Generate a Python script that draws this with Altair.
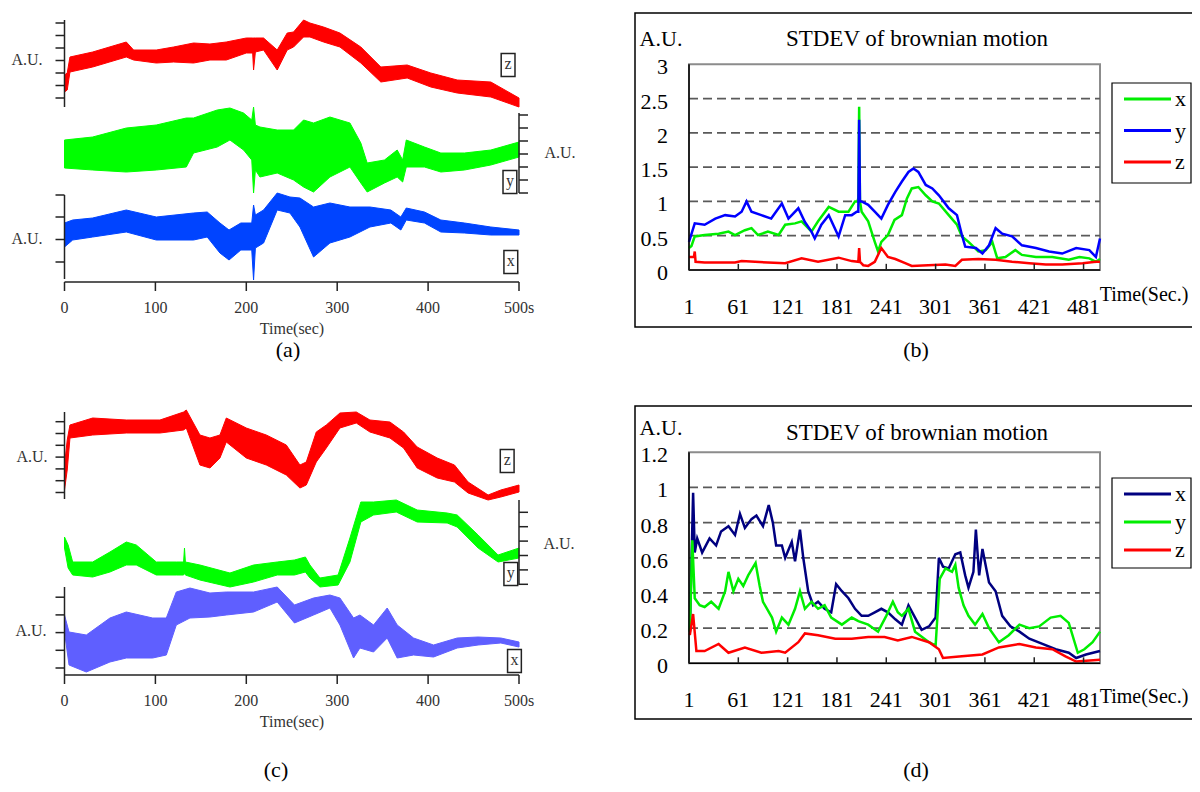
import altair as alt
import pandas as pd

W, H = 1184, 776
FONT = "Liberation Serif"

# ---------------- panel (a): raw traces (envelope low / high, A.U.) ----------------
a_z_t = [0, 3, 6, 31, 68, 76, 101, 120, 142, 160, 178, 200, 207, 208, 210, 219, 234, 245, 252, 263, 270, 285, 303, 326, 348, 377, 403, 432, 469, 500]
a_z_lo = [15, 17, 35, 40, 50, 47, 44, 45, 44, 47, 47, 54, 54, 37, 55, 57, 37, 57, 60, 70, 70, 65, 60, 44, 25, 29, 20, 14, 10, 0]
a_z_hi = [32, 34, 50, 55, 65, 57, 57, 60, 64, 63, 65, 69, 69, 69, 69, 69, 57, 74, 75, 87, 84, 80, 74, 60, 40, 42, 34, 27, 25, 9]

a_y_t = [0, 31, 68, 101, 134, 142, 168, 182, 197, 206, 208, 210, 215, 234, 252, 263, 274, 292, 314, 326, 333, 352, 366, 372, 376, 396, 414, 440, 469, 500]
a_y_lo = [25, 23, 21, 23, 26, 40, 46, 53, 43, 33, 0, 23, 16, 20, 13, 6, 1, 16, 26, 10, 1, 10, 16, 11, 26, 26, 21, 23, 28, 36]
a_y_hi = [53, 56, 65, 68, 75, 75, 83, 85, 80, 73, 86, 68, 66, 63, 63, 73, 70, 76, 70, 50, 30, 33, 43, 33, 53, 46, 40, 40, 43, 51]

a_x_t = [0, 9, 31, 68, 101, 142, 157, 171, 181, 194, 206, 208, 210, 219, 234, 248, 259, 274, 292, 314, 336, 359, 370, 376, 396, 414, 440, 469, 500]
a_x_lo = [32, 39, 42, 47, 39, 39, 42, 26, 19, 29, 29, -1, 31, 36, 69, 66, 52, 22, 36, 42, 52, 56, 49, 59, 56, 47, 46, 44, 44]
a_x_hi = [56, 59, 61, 69, 62, 66, 67, 56, 49, 56, 56, 74, 64, 69, 86, 82, 81, 72, 76, 72, 72, 69, 62, 71, 67, 59, 56, 52, 49]

# ---------------- panel (c): raw traces ----------------
c_z_t = [0, 3, 6, 31, 68, 105, 131, 134, 149, 160, 171, 178, 200, 222, 244, 259, 266, 277, 288, 303, 321, 336, 358, 373, 388, 410, 429, 444, 466, 480, 500]
c_z_lo = [9, 29, 61, 64, 66, 66, 69, 71, 34, 31, 41, 57, 41, 34, 24, 11, 14, 37, 51, 71, 76, 67, 61, 51, 31, 21, 17, 6, -1, 2, 7]
c_z_hi = [34, 59, 74, 81, 79, 79, 87, 89, 64, 61, 64, 81, 71, 64, 54, 34, 37, 67, 74, 86, 87, 79, 77, 67, 52, 41, 34, 17, 4, 9, 14]

c_y_t = [0, 4, 9, 31, 50, 68, 79, 101, 123, 131, 132, 133, 149, 182, 208, 234, 253, 265, 270, 281, 301, 314, 326, 340, 365, 388, 421, 432, 455, 477, 500]
c_y_lo = [37, 17, 10, 8, 13, 20, 20, 10, 10, 10, 12, 10, 5, -2, 3, 10, 10, 13, 7, -2, 0, 23, 63, 70, 73, 63, 62, 58, 37, 23, 27]
c_y_hi = [48, 40, 23, 23, 33, 43, 40, 23, 23, 23, 37, 23, 20, 12, 20, 23, 25, 28, 20, 7, 10, 47, 83, 83, 85, 75, 72, 70, 50, 30, 37]

c_x_t = [0, 5, 24, 50, 68, 97, 112, 123, 138, 160, 178, 208, 234, 253, 274, 292, 303, 318, 325, 340, 355, 366, 384, 406, 432, 455, 480, 500]
c_x_lo = [43, 10, 3, 13, 17, 17, 20, 50, 57, 58, 60, 63, 73, 52, 60, 67, 50, 17, 27, 23, 37, 17, 20, 18, 27, 30, 32, 28]
c_x_hi = [60, 43, 40, 57, 63, 57, 57, 83, 87, 82, 83, 83, 88, 70, 77, 80, 77, 57, 60, 50, 67, 50, 37, 30, 37, 38, 37, 33]

# ---------------- panel (b): STDEV ----------------
b_x_t = [1, 4, 8, 20, 37, 49, 57, 69, 77, 85, 97, 110, 118, 130, 138, 150, 158, 171, 183, 195, 203, 206, 207, 208, 209, 211, 219, 227, 231, 235, 243, 251, 260, 266, 272, 280, 289, 297, 305, 317, 327, 333, 341, 353, 362, 370, 376, 386, 398, 406, 423, 443, 463, 476, 488, 496, 501]
b_x_v = [0.32, 0.35, 0.49, 0.51, 0.53, 0.56, 0.51, 0.58, 0.61, 0.51, 0.56, 0.51, 0.66, 0.68, 0.71, 0.56, 0.71, 0.92, 0.85, 0.85, 1.0, 1.0, 1.05, 2.38, 1.0, 0.85, 0.71, 0.41, 0.27, 0.41, 0.51, 0.73, 0.80, 1.04, 1.19, 1.21, 1.09, 1.0, 0.97, 0.80, 0.66, 0.49, 0.41, 0.27, 0.29, 0.41, 0.17, 0.19, 0.29, 0.22, 0.19, 0.19, 0.15, 0.19, 0.17, 0.12, 0.16]
b_y_t = [1, 8, 20, 33, 45, 57, 65, 71, 77, 89, 101, 114, 122, 134, 142, 150, 154, 162, 171, 183, 191, 199, 205, 207, 208, 209, 211, 219, 227, 235, 243, 252, 260, 268, 274, 280, 289, 297, 305, 317, 327, 333, 337, 350, 358, 366, 374, 382, 394, 406, 423, 439, 455, 472, 488, 496, 501]
b_y_v = [0.41, 0.68, 0.66, 0.75, 0.80, 0.78, 0.85, 1.0, 0.85, 0.80, 0.75, 0.97, 0.75, 0.90, 0.70, 0.56, 0.46, 0.66, 0.80, 0.49, 0.80, 0.80, 0.85, 0.85, 2.19, 1.0, 1.0, 0.95, 0.85, 0.75, 0.95, 1.14, 1.29, 1.43, 1.48, 1.43, 1.24, 1.19, 1.09, 0.90, 0.80, 0.51, 0.34, 0.32, 0.24, 0.36, 0.61, 0.53, 0.49, 0.36, 0.32, 0.27, 0.24, 0.32, 0.29, 0.19, 0.46]
b_z_t = [1, 7, 8, 9, 20, 57, 65, 97, 118, 138, 158, 183, 199, 207, 208, 209, 213, 219, 227, 235, 243, 252, 264, 272, 292, 313, 325, 333, 353, 374, 394, 415, 435, 455, 480, 496, 501]
b_z_v = [0.19, 0.19, 0.27, 0.12, 0.11, 0.11, 0.13, 0.11, 0.10, 0.17, 0.12, 0.18, 0.13, 0.12, 0.32, 0.12, 0.07, 0.06, 0.12, 0.32, 0.19, 0.16, 0.10, 0.06, 0.07, 0.08, 0.06, 0.15, 0.16, 0.15, 0.12, 0.10, 0.08, 0.08, 0.10, 0.12, 0.12]

# ---------------- panel (d): STDEV ----------------
d_x_t = [2, 6, 8, 11, 17, 26, 34, 40, 49, 57, 63, 69, 77, 83, 91, 98, 103, 107, 114, 118, 126, 130, 136, 140, 146, 152, 158, 166, 174, 180, 187, 195, 203, 211, 219, 227, 235, 243, 252, 260, 268, 276, 284, 293, 301, 305, 310, 317, 325, 331, 337, 341, 347, 350, 354, 358, 366, 374, 382, 392, 403, 415, 431, 447, 463, 472, 484, 501]
d_x_v = [0.18, 0.97, 0.63, 0.71, 0.63, 0.71, 0.67, 0.75, 0.78, 0.73, 0.85, 0.77, 0.82, 0.84, 0.78, 0.90, 0.80, 0.67, 0.67, 0.60, 0.69, 0.58, 0.76, 0.60, 0.41, 0.33, 0.35, 0.31, 0.29, 0.45, 0.41, 0.37, 0.31, 0.27, 0.27, 0.29, 0.31, 0.29, 0.25, 0.22, 0.33, 0.26, 0.19, 0.21, 0.26, 0.60, 0.55, 0.54, 0.62, 0.63, 0.50, 0.43, 0.52, 0.76, 0.50, 0.65, 0.46, 0.41, 0.27, 0.21, 0.18, 0.14, 0.11, 0.08, 0.06, 0.03, 0.05, 0.07]
d_y_t = [2, 5, 8, 14, 20, 28, 37, 45, 49, 55, 61, 67, 73, 82, 87, 91, 102, 107, 114, 122, 130, 136, 142, 150, 158, 166, 174, 187, 199, 207, 219, 231, 241, 249, 255, 260, 268, 276, 293, 301, 306, 313, 321, 325, 329, 335, 341, 349, 358, 366, 378, 390, 403, 415, 427, 441, 453, 463, 474, 482, 492, 501]
d_y_v = [0.18, 0.70, 0.37, 0.33, 0.32, 0.35, 0.31, 0.41, 0.52, 0.41, 0.48, 0.44, 0.50, 0.57, 0.44, 0.35, 0.26, 0.18, 0.26, 0.22, 0.31, 0.41, 0.31, 0.35, 0.31, 0.33, 0.26, 0.22, 0.26, 0.24, 0.22, 0.18, 0.27, 0.35, 0.29, 0.27, 0.31, 0.18, 0.12, 0.10, 0.48, 0.54, 0.52, 0.56, 0.43, 0.33, 0.27, 0.22, 0.28, 0.20, 0.12, 0.16, 0.22, 0.20, 0.21, 0.26, 0.27, 0.23, 0.06, 0.08, 0.12, 0.18]
d_z_t = [2, 6, 10, 20, 37, 49, 69, 89, 110, 118, 134, 142, 158, 179, 199, 219, 239, 255, 272, 293, 305, 310, 333, 358, 378, 403, 423, 443, 459, 472, 501]
d_z_v = [0.16, 0.28, 0.07, 0.07, 0.11, 0.06, 0.09, 0.06, 0.07, 0.06, 0.12, 0.17, 0.16, 0.14, 0.14, 0.15, 0.15, 0.13, 0.15, 0.12, 0.08, 0.03, 0.04, 0.05, 0.09, 0.11, 0.09, 0.08, 0.04, 0.01, 0.02]

# ---------------- tick values / tick labels / categories ----------------
raw_x_ticks = [0, 100, 200, 300, 400, 500]
raw_x_labels = ["0", "100", "200", "300", "400", "500s"]
sd_x_ticks = [1, 61, 121, 181, 241, 301, 361, 421, 481]
sd_x_labels = ["1", "61", "121", "181", "241", "301", "361", "421", "481"]
b_y_ticks = [0, 0.5, 1, 1.5, 2, 2.5, 3]
b_y_labels = ["0", "0.5", "1", "1.5", "2", "2.5", "3"]
b_grid = [0.5, 1, 1.5, 2, 2.5]
d_y_ticks = [0, 0.2, 0.4, 0.6, 0.8, 1, 1.2]
d_y_labels = ["0", "0.2", "0.4", "0.6", "0.8", "1", "1.2"]
d_grid = [0.2, 0.4, 0.6, 0.8, 1.0]
series_names = ["x", "y", "z"]
b_colors = ["#00ee00", "#0000ff", "#ff0000"]
d_colors = ["#000080", "#00ee00", "#ff0000"]

BOX = "M-0.6,-1L0.6,-1L0.6,1L-0.6,1Z"
XS_AC = alt.Scale(domain=[0, 500], range=[56.5, 511], nice=False, zero=False)
AXC = "#222222"
TXC = "#333333"


def X(field):
    return alt.X(field, scale=XS_AC, axis=None)


def trace(t, lo, hi, color, dom, rng, ticks, side, lab, lab_t, lab_v):
    ys = alt.Scale(domain=dom, range=rng, nice=False, zero=False)

    def Y(field):
        return alt.Y(field, scale=ys, axis=None)

    df = pd.DataFrame({"t": t, "lo": lo, "hi": hi})
    band = alt.Chart(df).mark_area(color=color, opacity=1, stroke=color, strokeWidth=1).encode(
        x=X("t:Q"), y=Y("lo:Q"), y2="hi:Q")
    t_axis = 0 if side == "left" else 500
    spine = alt.Chart(pd.DataFrame({"t": [t_axis], "v0": [dom[0]], "v1": [dom[1]]})).mark_rule(
        color=AXC, strokeWidth=1.5).encode(x=X("t:Q"), y=Y("v0:Q"), y2="v1:Q")
    ticks_l = alt.Chart(pd.DataFrame({"t": t_axis, "v": ticks})).mark_tick(
        orient="horizontal", size=9, thickness=1.5, color=AXC, opacity=1,
        xOffset=-4.5 if side == "left" else 4.5).encode(x=X("t:Q"), y=Y("v:Q"))
    ldf = pd.DataFrame({"t": [lab_t], "v": [lab_v], "lab": [lab]})
    box = alt.Chart(ldf).mark_point(shape=BOX, size=529, filled=False, color=AXC,
                                    strokeWidth=1.5, opacity=1).encode(x=X("t:Q"), y=Y("v:Q"))
    txt = alt.Chart(ldf).mark_text(font=FONT, fontSize=16, color=TXC, baseline="middle", dy=-1).encode(
        x=X("t:Q"), y=Y("v:Q"), text="lab:N")
    return alt.layer(band, spine, ticks_l, box, txt)


def raw_xaxis(axis_y):
    dom = alt.Chart(pd.DataFrame({"t0": [0], "t1": [500]})).mark_rule(color=AXC, strokeWidth=1.5).encode(
        x=X("t0:Q"), x2="t1:Q", y=alt.value(axis_y))
    tk = alt.Chart(pd.DataFrame({"t": raw_x_ticks})).mark_tick(
        orient="vertical", size=9, thickness=1.5, color=AXC, opacity=1).encode(
        x=X("t:Q"), y=alt.value(axis_y + 4.5))
    lb = alt.Chart(pd.DataFrame({"t": raw_x_ticks, "lab": raw_x_labels})).mark_text(
        font=FONT, fontSize=16, color=TXC, baseline="middle").encode(
        x=X("t:Q"), y=alt.value(axis_y + 26), text="lab:N")
    return alt.layer(dom, tk, lb)


panel_a = alt.layer(
    trace(a_z_t, a_z_lo, a_z_hi, "#ff0000", [0, 87], [99, 12], [9, 21.5, 34, 46.5, 59, 71.5, 84],
          "left", "z", 488, 42),
    trace(a_y_t, a_y_lo, a_y_hi, "#00ff00", [0, 80], [185, 105], [0, 13, 26, 39, 52, 65, 78],
          "right", "y", 490, 11),
    trace(a_x_t, a_x_lo, a_x_hi, "#0044ff", [0, 84], [271, 187], [17, 39.5, 62, 84],
          "left", "x", 491, 17),
    raw_xaxis(274),
).resolve_scale(y="independent")

panel_c = alt.layer(
    trace(c_z_t, c_z_lo, c_z_hi, "#ff0000", [0, 87], [491, 404], [6.5, 18.3, 30.1, 41.9, 53.7, 65.5, 77.3],
          "left", "z", 487, 38),
    trace(c_y_t, c_y_lo, c_y_hi, "#00ff00", [0, 85], [577, 492], [0.7, 15.1, 29.5, 43.9, 58.3, 72.7],
          "right", "y", 491, 11),
    trace(c_x_t, c_x_lo, c_x_hi, "#5f5fff", [0, 88], [667, 579], [7, 24.7, 42.4, 60.1, 77.8],
          "left", "x", 495, 14),
    raw_xaxis(667),
).resolve_scale(y="independent")


def stdev_panel(series, colors, ymax, yticks, ylabels, grid, y_top, y_bot, tick_h):
    xs = alt.Scale(domain=[1, 501], range=[681, 1092], nice=False, zero=False)
    ys = alt.Scale(domain=[0, ymax], range=[y_bot, y_top], nice=False, zero=False)

    def XX(f):
        return alt.X(f, scale=xs, axis=None)

    def YY(f):
        return alt.Y(f, scale=ys, axis=None)

    rows = []
    for name, (tt, vv) in zip(series_names, series):
        for a, b in zip(tt, vv):
            rows.append({"t": a, "v": b, "s": name})
    df = pd.DataFrame(rows)
    border = alt.Chart(pd.DataFrame({"x0": [1], "x1": [501], "y0": [0], "y1": [ymax]})).mark_rect(
        fillOpacity=0, stroke="#8c8c8c", strokeWidth=2).encode(
        x=XX("x0:Q"), x2="x1:Q", y=YY("y0:Q"), y2="y1:Q")
    grid_l = alt.Chart(pd.DataFrame({"g": grid, "x0": 1, "x1": 501})).mark_rule(
        color="#5a5a5a", strokeWidth=1.8, strokeDash=[9, 5]).encode(
        x=XX("x0:Q"), x2="x1:Q", y=YY("g:Q"))
    lines = alt.Chart(df).mark_line(strokeWidth=2.5).encode(
        x=XX("t:Q"), y=YY("v:Q"),
        color=alt.Color("s:N", scale=alt.Scale(domain=series_names, range=colors), legend=None),
        order=alt.Order("t:Q"),
    )
    left_spine = alt.Chart(pd.DataFrame({"t": [1], "v0": [0], "v1": [ymax]})).mark_rule(
        color="black", strokeWidth=1.5).encode(x=XX("t:Q"), y=YY("v0:Q"), y2="v1:Q")
    bottom_spine = alt.Chart(pd.DataFrame({"t0": [1], "t1": [501], "v": [0]})).mark_rule(
        color="black", strokeWidth=1.5).encode(x=XX("t0:Q"), x2="t1:Q", y=YY("v:Q"))
    ticks_l = alt.Chart(pd.DataFrame({"tk": sd_x_ticks, "y0": 0, "y1": tick_h})).mark_rule(
        color="#222", strokeWidth=1.5).encode(x=XX("tk:Q"), y=YY("y0:Q"), y2="y1:Q")
    ylab = alt.Chart(pd.DataFrame({"v": yticks, "lab": ylabels})).mark_text(
        font=FONT, fontSize=22, color="black", align="right", baseline="middle", dy=3).encode(
        y=YY("v:Q"), x=alt.value(660), text="lab:N")
    xlab = alt.Chart(pd.DataFrame({"t": sd_x_ticks, "lab": sd_x_labels})).mark_text(
        font=FONT, fontSize=22, color="black", align="center", baseline="middle").encode(
        x=XX("t:Q"), y=alt.value(y_bot + 37), text="lab:N")
    return alt.layer(border, grid_l, lines, left_spine, bottom_spine, ticks_l, ylab, xlab)


panel_b = stdev_panel([(b_x_t, b_x_v), (b_y_t, b_y_v), (b_z_t, b_z_v)],
                      b_colors, 3, b_y_ticks, b_y_labels, b_grid, 56.3, 262, 0.09)
panel_d = stdev_panel([(d_x_t, d_x_v), (d_y_t, d_y_v), (d_z_t, d_z_v)],
                      d_colors, 1.2, d_y_ticks, d_y_labels, d_grid, 444.3, 655.3, 0.034)

one = pd.DataFrame({"k": [0]})


def frame(x0, x1, y0, y1, width=1.5):
    return alt.Chart(one).mark_rect(fillOpacity=0, stroke="black", strokeWidth=width).encode(
        x=alt.value(x0), x2=alt.value(x1), y=alt.value(y0), y2=alt.value(y1))


def legend_block(colors, y_first, y_last, box_top, box_bottom):
    ls = alt.Scale(type="point", domain=series_names, range=[y_first, y_last], padding=0)
    cs = alt.Scale(domain=series_names, range=colors)
    ldf = pd.DataFrame({"s": series_names})
    sym = alt.Chart(ldf).mark_rule(strokeWidth=3).encode(
        x=alt.value(1116), x2=alt.value(1163),
        y=alt.Y("s:N", scale=ls, axis=None),
        color=alt.Color("s:N", scale=cs, legend=None))
    lab = alt.Chart(ldf).mark_text(font=FONT, fontSize=22, color="black", align="left",
                                   baseline="middle").encode(
        x=alt.value(1167), y=alt.Y("s:N", scale=ls, axis=None), text="s:N")
    return alt.layer(frame(1104, 1183, box_top, box_bottom, 1.2), sym, lab)


def caption(s, x, y, size, color="black"):
    return alt.Chart(pd.DataFrame({"s": [s]})).mark_text(
        font=FONT, fontSize=size, color=color, align="center", baseline="middle").encode(
        x=alt.value(x), y=alt.value(y), text="s:N")


chart = alt.layer(
    frame(627, 1195, 5, 319),
    frame(627, 1195, 398, 711),
    panel_a, panel_c, panel_b, panel_d,
    legend_block(b_colors, 91, 154, 75, 175),
    legend_block(d_colors, 486, 542, 470, 560),
    # panel (a)/(c) annotations
    caption("A.U.", 19, 52, 16, TXC), caption("A.U.", 552, 145, 16, TXC), caption("A.U.", 19, 231, 16, TXC),
    caption("Time(sec)", 284, 321, 16, TXC),
    caption("A.U.", 24, 449, 16, TXC), caption("A.U.", 551, 536, 16, TXC), caption("A.U.", 23, 623, 16, TXC),
    caption("Time(sec)", 284, 714, 16, TXC),
    # panel (b)/(d) annotations
    caption("A.U.", 653, 31, 22), caption("STDEV of brownian motion", 909, 31, 23),
    caption("Time(Sec.)", 1136, 287, 20),
    caption("A.U.", 653, 420, 22), caption("STDEV of brownian motion", 909, 425, 23),
    caption("Time(Sec.)", 1136, 689, 20),
    caption("(a)", 280, 342, 22),
    caption("(b)", 908, 342, 22),
    caption("(c)", 268, 762, 22),
    caption("(d)", 908, 762, 22),
).resolve_scale(x="independent", y="independent", color="independent").properties(
    width=W, height=H, padding=0, autosize=alt.AutoSizeParams(type="none"), background="white"
).configure_view(stroke=None)

chart.save("out.html", embed_options={"renderer": "svg", "actions": False})
